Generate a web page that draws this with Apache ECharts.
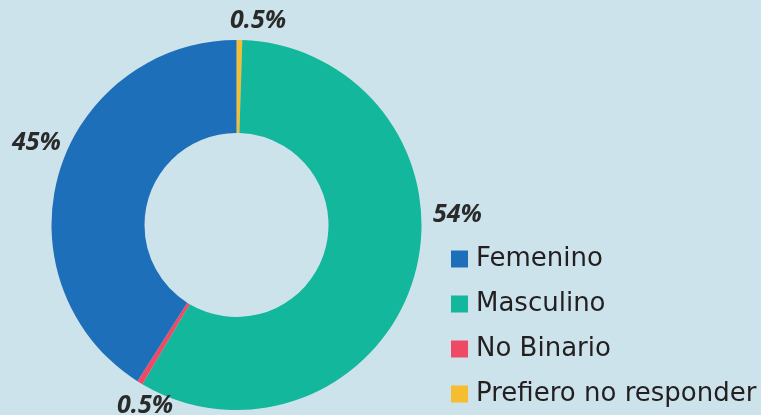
<!DOCTYPE html>
<html><head><meta charset="utf-8">
<script src="https://cdn.jsdelivr.net/npm/echarts@6/dist/echarts.min.js"></script>
<style>html,body{margin:0;padding:0;background:#cde3eb;}#c{width:761px;height:415px;}</style>
</head><body><div id="c"></div>
<script>
// Slice order follows the ring clockwise from the top
const categories = ['Prefiero no responder', 'Masculino', 'No Binario', 'Femenino'];
const values = [0.5, 58, 0.5, 41];           // proportions as drawn in the ring
const labelTexts = ['0.5%', '54%', '0.5%', '45%']; // printed percentages
const legendOrder = ['Femenino', 'Masculino', 'No Binario', 'Prefiero no responder'];
const colors = ['#f6bd30', '#13b79b', '#ef4a64', '#1e6fba'];

const labelPos = [
  {x: 230, y: 21, align: 'left'},
  {x: 433, y: 215, align: 'left'},
  {x: 117, y: 406, align: 'left'},
  {x: 61, y: 143, align: 'right'}
];

const chart = echarts.init(document.getElementById('c'), null, {renderer: 'canvas'});
chart.setOption({
  backgroundColor: '#cde3eb',
  animation: false,
  legend: {
    orient: 'vertical',
    left: 446, top: 241,
    height: 180,
    data: legendOrder,
    icon: 'rect',
    itemWidth: 17, itemHeight: 17,
    itemGap: 19,
    textStyle: {fontFamily: 'DejaVu Sans', fontSize: 26, lineHeight: 24, color: '#231f20', padding: [0,0,0,3]}
  },
  series: [{
    type: 'pie',
    center: [236.5, 225],
    radius: [92, 185],
    startAngle: 90,
    clockwise: true,
    avoidLabelOverlap: false,
    data: categories.map((n, i) => ({name: n, value: values[i], itemStyle: {color: colors[i]}})),
    label: {
      show: true,
      position: 'outside',
      formatter: p => labelTexts[p.dataIndex],
      fontFamily: 'Open Sans', fontSize: 25, fontWeight: 'bold', fontStyle: 'italic',
      color: '#2a2a2a'
    },
    labelLine: {show: false},
    labelLayout: p => Object.assign({verticalAlign: 'middle'}, labelPos[p.dataIndex])
  }]
});
</script></body></html>
